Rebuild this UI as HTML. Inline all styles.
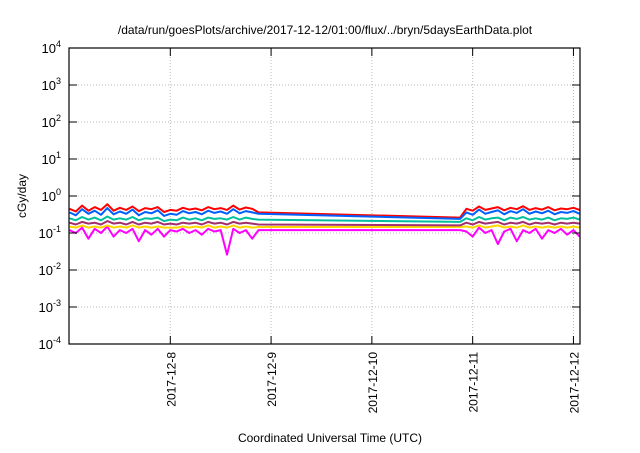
<!DOCTYPE html>
<html><head><meta charset="utf-8"><style>
body{margin:0;background:#fff;width:640px;height:448px;overflow:hidden}
svg{font-family:"Liberation Sans",sans-serif}
</style></head><body>
<svg id="chart" width="640" height="448">
<text x="325" y="34" text-anchor="middle" font-size="12">/data/run/goesPlots/archive/2017-12-12/01:00/flux/../bryn/5daysEarthData.plot</text>
<text x="330" y="442" text-anchor="middle" font-size="12">Coordinated Universal Time (UTC)</text>
<text transform="translate(26,196) rotate(-90)" text-anchor="middle" font-size="12">cGy/day</text>
<g id="grid"></g><g id="series"></g><g id="axes"></g>
</svg>
<script>
const xTickLabels=["2017-12-8","2017-12-9","2017-12-10","2017-12-11","2017-12-12"];
const xTickDays=[1,2,3,4,5];
const yTickExps=[-4,-3,-2,-1,0,1,2,3,4];
const times=[0,0.0625,0.125,0.1875,0.25,0.3125,0.375,0.4375,0.5,0.5625,0.625,0.6875,0.75,0.8125,0.875,0.9375,1,1.0625,1.125,1.1875,1.25,1.3125,1.375,1.4375,1.5,1.5625,1.625,1.6875,1.75,1.8125,1.875,
3.875,3.9375,4,4.0625,4.125,4.1875,4.25,4.3125,4.375,4.4375,4.5,4.5625,4.625,4.6875,4.75,4.8125,4.875,4.9375,5,5.0625];
const red=[0.45,0.38,0.55,0.4,0.5,0.42,0.6,0.4,0.48,0.42,0.52,0.39,0.47,0.44,0.5,0.37,0.42,0.4,0.48,0.43,0.46,0.41,0.5,0.44,0.47,0.42,0.55,0.43,0.49,0.45,0.36,
0.26,0.45,0.4,0.52,0.42,0.46,0.5,0.41,0.48,0.44,0.53,0.42,0.47,0.43,0.5,0.41,0.46,0.44,0.48,0.42];
const blue=[0.36,0.3,0.44,0.33,0.4,0.31,0.47,0.32,0.38,0.33,0.43,0.3,0.37,0.34,0.41,0.29,0.33,0.31,0.39,0.34,0.37,0.32,0.4,0.35,0.38,0.33,0.44,0.34,0.39,0.36,0.33,
0.24,0.36,0.31,0.43,0.33,0.37,0.41,0.32,0.39,0.35,0.44,0.33,0.38,0.34,0.4,0.32,0.37,0.35,0.39,0.33];
const teal=[0.25,0.22,0.27,0.23,0.26,0.22,0.28,0.23,0.25,0.23,0.27,0.22,0.25,0.24,0.26,0.21,0.23,0.22,0.26,0.23,0.25,0.22,0.26,0.24,0.25,0.23,0.27,0.23,0.26,0.24,0.23,
0.2,0.25,0.22,0.27,0.23,0.25,0.26,0.22,0.26,0.24,0.27,0.23,0.25,0.23,0.26,0.22,0.25,0.24,0.26,0.23];
const purple=[0.19,0.17,0.2,0.18,0.19,0.17,0.21,0.18,0.19,0.17,0.2,0.17,0.19,0.18,0.2,0.17,0.18,0.17,0.19,0.18,0.19,0.17,0.2,0.18,0.19,0.17,0.2,0.18,0.19,0.18,0.17,
0.16,0.19,0.17,0.2,0.18,0.19,0.2,0.17,0.19,0.18,0.2,0.17,0.19,0.18,0.19,0.17,0.19,0.18,0.19,0.18];
const yellow=[0.15,0.14,0.16,0.14,0.15,0.14,0.16,0.14,0.15,0.14,0.16,0.14,0.15,0.14,0.15,0.14,0.14,0.14,0.15,0.14,0.15,0.14,0.16,0.14,0.15,0.14,0.16,0.14,0.15,0.14,0.145,
0.145,0.15,0.14,0.16,0.14,0.15,0.16,0.14,0.15,0.14,0.16,0.14,0.15,0.14,0.15,0.14,0.15,0.14,0.15,0.14];
const magenta=[0.12,0.1,0.14,0.07,0.13,0.1,0.15,0.08,0.12,0.1,0.13,0.06,0.12,0.09,0.13,0.08,0.12,0.11,0.13,0.1,0.12,0.09,0.13,0.11,0.12,0.026,0.13,0.1,0.12,0.07,0.12,
0.12,0.11,0.08,0.14,0.1,0.12,0.05,0.11,0.13,0.06,0.12,0.1,0.13,0.07,0.12,0.1,0.13,0.09,0.12,0.08];
const seriesList=[["magenta","#ff00ff",magenta],["yellow","#ffd700",yellow],["purple","#a0306e",purple],["teal","#00c0a0",teal],["red","#ff0000",red],["blue","#0060ff",blue]];
const L=69,R=580,T=48,B=344,X0=-0.005,X1=5.065;
const xs=d=>L+(d-X0)/(X1-X0)*(R-L);
const ys=v=>B-(Math.log10(v)+4)/8*(B-T);
const NS="http://www.w3.org/2000/svg";
function mk(tag,attrs,parent){const e=document.createElementNS(NS,tag);for(const k in attrs)e.setAttribute(k,attrs[k]);parent.appendChild(e);return e;}
const grid=document.getElementById('grid'),axes=document.getElementById('axes'),ser=document.getElementById('series');
yTickExps.forEach(e=>{const y=ys(Math.pow(10,e));
 if(e>-4&&e<4){const g=mk('line',{x1:L,x2:R,y1:y,y2:y,stroke:'#bbb','stroke-dasharray':'1,2'},grid);
 
 }
 mk('line',{x1:L,x2:L+8,y1:y,y2:y,stroke:'#000'},axes);mk('line',{x1:R,x2:R-8,y1:y,y2:y,stroke:'#000'},axes);
 const t=mk('text',{x:L-8,y:y+5,'text-anchor':'end','font-size':'13'},axes);
 
 
 t.textContent='10';const s=mk('tspan',{dy:'-6','font-size':'9'},t);s.textContent=String(e);});
xTickDays.forEach((d,i)=>{const x=xs(d);
 const g=mk('line',{x1:x,x2:x,y1:T,y2:B,stroke:'#bbb','stroke-dasharray':'1,2'},grid);
 
 
 mk('line',{x1:x,x2:x,y1:B,y2:B-8,stroke:'#000'},axes);mk('line',{x1:x,x2:x,y1:T,y2:T+8,stroke:'#000'},axes);
 const t=mk('text',{transform:`translate(${x+5},${B+8}) rotate(-90)`,'text-anchor':'end','font-size':'12'},axes);
 
 
 t.textContent=xTickLabels[i];});
const fr=mk('rect',{x:L,y:T,width:R-L,height:B-T,fill:'none',stroke:'#000','stroke-width':'1.2'},axes);


seriesList.forEach(([n,c,vals])=>{
 const p=mk('polyline',{points:vals.map((v,i)=>xs(times[i]).toFixed(1)+','+ys(v).toFixed(1)).join(' '),fill:'none',stroke:c,'stroke-width':'2','stroke-linejoin':'round'},ser);
 
 });
</script>
</body></html>
